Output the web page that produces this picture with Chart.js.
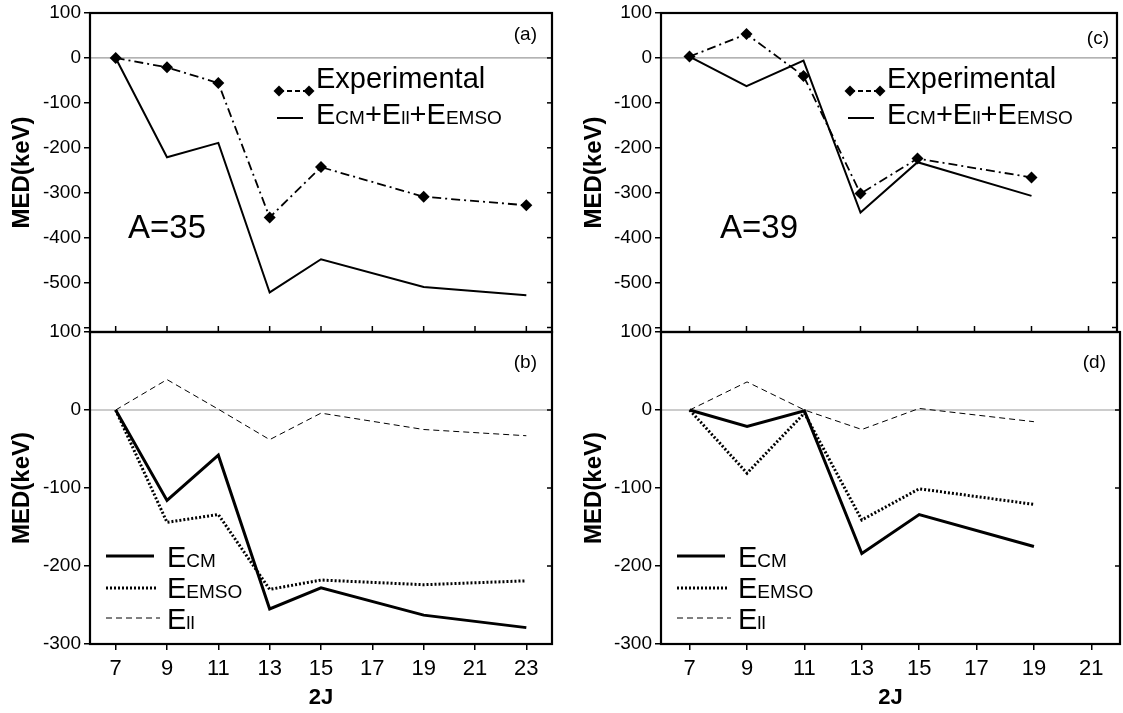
<!DOCTYPE html>
<html><head><meta charset="utf-8">
<script src="https://cdn.jsdelivr.net/npm/chart.js@4.4.0/dist/chart.umd.min.js"></script>
<style>
html,body{margin:0;padding:0;background:#fff;width:1123px;height:713px;overflow:hidden;position:relative}
canvas{position:absolute}
</style></head><body>
<canvas id="ca" width="560" height="350" style="left:0;top:-3px"></canvas>
<canvas id="cb" width="560" height="396" style="left:0;top:317px"></canvas>
<canvas id="cc" width="563" height="350" style="left:560px;top:-3px"></canvas>
<canvas id="cd" width="563" height="396" style="left:560px;top:317px"></canvas>
<script>
// ---- data ----
const x35 = [7, 9, 11, 13, 15, 19, 23];
const exp35 = [0, -21, -56, -355, -243, -309, -328];
const theory35 = [0, -221, -189, -522, -448, -510, -528];
const ecm35 = [0, -116, -58, -255, -228, -263, -279];
const emso35 = [0, -144, -134, -230, -218, -224, -219];
const ell35 = [0, 39, 1, -38, -4, -25, -33];

const x39 = [7, 9, 11, 13, 15, 19];
const exp39 = [3, 53, -40, -302, -224, -266];
const theory39 = [3, -63, -6, -344, -232, -307];
const ecm39 = [0, -21, -1, -184, -134, -175];
const emso39 = [0, -81, -4, -141, -101, -121];
const ell39 = [0, 36, 0, -25, 2, -15];

const xTicks35 = [7, 9, 11, 13, 15, 17, 19, 21, 23];
const xTicks39 = [7, 9, 11, 13, 15, 17, 19, 21];
const yTicksTop = [100, 0, -100, -200, -300, -400, -500, -600];
const yTicksBottom = [100, 0, -100, -200, -300];

const FONT = '"Liberation Sans", Arial, Helvetica, sans-serif';
Chart.defaults.font.family = FONT;
Chart.defaults.color = '#000';

const pts = (xs, ys) => xs.map((x, i) => ({x: x, y: ys[i]}));

const topLegend = [
  {sym: 'exp', x1: 189, x2: 219, y: 78, textX: 226, base: 75, parts: [['Experimental', 29]]},
  {sym: 'solid', lw: 2, x1: 187, x2: 213, y: 105, textX: 226, base: 111,
   parts: [['E', 29], ['CM', 19], ['+E', 29], ['ll', 19], ['+E', 29], ['EMSO', 19]]}
];
const bottomLegend = [
  {sym: 'solid', lw: 3, x1: 16, x2: 64, y: 224, textX: 77, base: 235, parts: [['E', 29], ['CM', 19]]},
  {sym: 'dot', lw: 3, x1: 16, x2: 66, y: 256, textX: 77, base: 266, parts: [['E', 29], ['EMSO', 19]]},
  {sym: 'dash', lw: 1, x1: 16, x2: 70, y: 286, textX: 77, base: 297, parts: [['E', 29], ['ll', 19]]}
];

const decorPlugin = {
  id: 'decor',
  beforeDatasetsDraw(chart) {
    const ca = chart.chartArea, ctx = chart.ctx;
    const y0 = chart.scales.y.getPixelForValue(0);
    ctx.save();
    ctx.strokeStyle = '#9a9a9a'; ctx.lineWidth = 1.2;
    ctx.beginPath(); ctx.moveTo(ca.left, y0); ctx.lineTo(ca.right, y0); ctx.stroke();
    ctx.restore();
  },
  afterDraw(chart) {
    const o = chart.options.plugins.decor;
    const ca = chart.chartArea, ctx = chart.ctx;
    const ys = chart.scales.y, xs = chart.scales.x;
    ctx.save();
    ctx.strokeStyle = '#000'; ctx.lineWidth = 2.2;
    ctx.strokeRect(ca.left, ca.top, ca.right - ca.left, ca.bottom - ca.top);
    // inward ticks on right side
    ctx.lineWidth = 1.5;
    ys.ticks.forEach(t => {
      const py = ys.getPixelForValue(t.value);
      if (py <= ca.top + 1 || py >= ca.bottom - 1) return;
      ctx.beginPath(); ctx.moveTo(ca.right, py); ctx.lineTo(ca.right - 5, py); ctx.stroke();
    });
    // inward ticks on bottom of upper panels
    if (o.innerX) {
      o.xVals.forEach(v => {
        const px = xs.getPixelForValue(v);
        ctx.beginPath(); ctx.moveTo(px, ca.bottom); ctx.lineTo(px, ca.bottom - 6); ctx.stroke();
      });
    }
    // panel tag
    ctx.fillStyle = '#000';
    ctx.font = '19px ' + FONT;
    ctx.textAlign = 'right'; ctx.textBaseline = 'alphabetic';
    ctx.fillText(o.tag, ca.right - o.tagRight, ca.top + o.tagBase);
    if (o.big) {
      ctx.textAlign = 'left';
      ctx.font = '33px ' + FONT;
      ctx.fillText(o.big, ca.left + o.bigX, ca.top + o.bigBase);
    }
    // legend
    ctx.textAlign = 'left';
    o.legend.forEach(it => {
      const y = ca.top + it.y;
      const x1 = ca.left + it.x1, x2 = ca.left + it.x2;
      ctx.strokeStyle = '#000'; ctx.fillStyle = '#000';
      if (it.sym === 'exp') {
        ctx.lineWidth = 1.8; ctx.setLineDash([5, 3]);
        ctx.beginPath(); ctx.moveTo(x1, y); ctx.lineTo(x2, y); ctx.stroke();
        ctx.setLineDash([]);
        [x1, x2].forEach(px => {
          ctx.beginPath();
          ctx.moveTo(px, y - 5.5); ctx.lineTo(px + 5.5, y); ctx.lineTo(px, y + 5.5); ctx.lineTo(px - 5.5, y);
          ctx.closePath(); ctx.fill();
        });
      } else {
        ctx.lineWidth = it.lw;
        ctx.setLineDash(it.sym === 'dot' ? [2, 2] : it.sym === 'dash' ? [6, 4] : []);
        ctx.beginPath(); ctx.moveTo(x1, y); ctx.lineTo(x2, y); ctx.stroke();
        ctx.setLineDash([]);
      }
      let tx = ca.left + it.textX;
      const by = ca.top + it.base;
      it.parts.forEach(p => {
        ctx.font = p[1] + 'px ' + FONT;
        ctx.fillText(p[0], tx, by);
        tx += ctx.measureText(p[0]).width;
      });
    });
    ctx.restore();
  }
};
Chart.register(decorPlugin);

function makeChart(id, c) {
  const tickGrid = {display: true, drawOnChartArea: false, drawTicks: true, tickLength: 6, color: '#000', lineWidth: 1.5};
  return new Chart(document.getElementById(id), {
    type: 'line',
    data: {datasets: c.datasets},
    options: {
      responsive: false, animation: false,
      layout: {padding: {top: c.padTop, right: c.padRight, bottom: c.padBottom, left: 0}},
      plugins: {legend: {display: false}, tooltip: {enabled: false}, decor: c.decor},
      elements: {line: {tension: 0}},
      scales: {
        x: {
          type: 'linear', min: 6, max: c.xMax, display: c.showX,
          afterBuildTicks: s => { s.ticks = c.xTicks.map(v => ({value: v})); },
          afterFit: s => { s.height = c.showX ? 69 : 0; },
          grid: tickGrid, border: {display: false},
          ticks: {font: {size: 22}, color: '#000', padding: 6, maxRotation: 0, autoSkip: false,
                  callback: v => String(v)},
          title: {display: true, text: '2J', color: '#000', font: {size: 22, weight: 'bold'},
                  padding: {top: 0, bottom: 2}}
        },
        y: {
          type: 'linear', min: c.yMin, max: 100,
          afterBuildTicks: s => { s.ticks = c.yTicks.map(v => ({value: v})); },
          afterFit: s => { s.width = c.yWidth; },
          grid: tickGrid, border: {display: false},
          ticks: {font: {size: 19}, color: '#000', padding: 3, autoSkip: false,
                  callback: v => (v === -600 ? '' : String(v))},
          title: {display: true, text: 'MED(keV)', color: '#000', font: {size: 24, weight: 'bold'},
                  padding: {top: c.titlePad, bottom: 0}}
        }
      }
    }
  });
}

function topSets(xs, e, t) {
  return [
    {data: pts(xs, e), borderColor: '#000', borderWidth: 1.8, borderDash: [9, 4, 2, 4],
     pointStyle: 'rectRot', pointRadius: 6, pointBackgroundColor: '#000', pointBorderColor: '#000', pointBorderWidth: 0},
    {data: pts(xs, t), borderColor: '#000', borderWidth: 2, pointRadius: 0}
  ];
}
function bottomSets(xs, cm, so, ll) {
  return [
    {data: pts(xs, ll), borderColor: '#000', borderWidth: 1, borderDash: [6, 4], pointRadius: 0},
    {data: pts(xs, so), borderColor: '#000', borderWidth: 3, borderDash: [2, 2], pointRadius: 0},
    {data: pts(xs, cm), borderColor: '#000', borderWidth: 3, pointRadius: 0}
  ];
}

makeChart('ca', {
  datasets: topSets(x35, exp35, theory35),
  padTop: 16, padRight: 8, padBottom: 15, showX: false, xMax: 24, xTicks: xTicks35,
  yMin: -610, yTicks: yTicksTop, yWidth: 90, titlePad: 8,
  decor: {tag: '(a)', tagRight: 15, tagBase: 27, big: 'A=35', bigX: 38, bigBase: 225,
          legend: topLegend, innerX: true, xVals: xTicks35}
});
makeChart('cb', {
  datasets: bottomSets(x35, ecm35, emso35, ell35),
  padTop: 15, padRight: 8, padBottom: 0, showX: true, xMax: 24, xTicks: xTicks35,
  yMin: -300, yTicks: yTicksBottom, yWidth: 90, titlePad: 8,
  decor: {tag: '(b)', tagRight: 15, tagBase: 36, legend: bottomLegend, innerX: false, xVals: xTicks35}
});
makeChart('cc', {
  datasets: topSets(x39, exp39, theory39),
  padTop: 16, padRight: 3, padBottom: 15, showX: false, xMax: 22, xTicks: xTicks39,
  yMin: -610, yTicks: yTicksTop, yWidth: 101, titlePad: 20,
  decor: {tag: '(c)', tagRight: 8, tagBase: 31, big: 'A=39', bigX: 59, bigBase: 225,
          legend: topLegend, innerX: true, xVals: xTicks39}
});
makeChart('cd', {
  datasets: bottomSets(x39, ecm39, emso39, ell39),
  padTop: 15, padRight: 3, padBottom: 0, showX: true, xMax: 22, xTicks: xTicks39,
  yMin: -300, yTicks: yTicksBottom, yWidth: 101, titlePad: 20,
  decor: {tag: '(d)', tagRight: 14, tagBase: 36, legend: bottomLegend, innerX: false, xVals: xTicks39}
});
</script>
</body></html>
